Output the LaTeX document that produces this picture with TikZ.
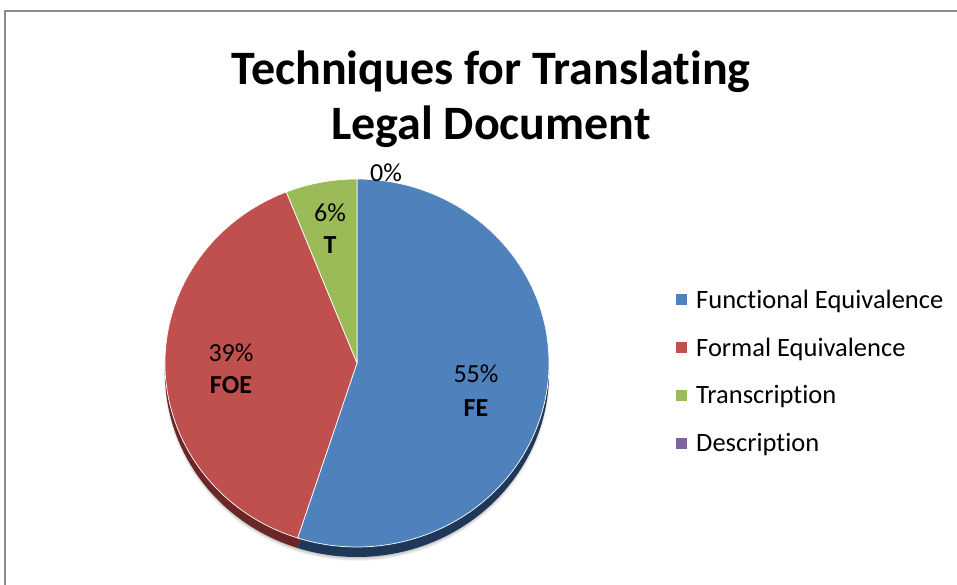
\documentclass[tikz,border=0pt]{standalone}
\usepackage{fontspec}
\setmainfont[Ligatures={NoCommon}]{Carlito}
\usetikzlibrary{calc}
\begin{document}
\begin{tikzpicture}[x=1pt,y=1pt,
  lbl/.style={font=\fontsize{26}{30}\selectfont, inner sep=0pt},
  lblb/.style={font=\fontsize{26}{30}\selectfont\bfseries, inner sep=0pt},
  legtext/.style={font=\fontsize{26.5}{30}\selectfont, anchor=west, inner sep=0pt},
  legkey/.style={minimum size=11pt, inner sep=0pt},
  slice/.style={draw=white, line width=0.7pt, line join=round}]
\definecolor{feblue}{HTML}{4F81BD}
\definecolor{foered}{HTML}{C0504D}
\definecolor{tgreen}{HTML}{9BBB59}
\definecolor{dpurple}{HTML}{8064A2}
\definecolor{febluedark}{HTML}{1F3859}
\definecolor{foereddark}{HTML}{6A2725}
\definecolor{framegray}{HTML}{8C8C8C}
\useasboundingbox (0,0) rectangle (957,585);
\fill[white] (0,0) rectangle (957,585);
% chart area frame
\draw[framegray, line width=1.5pt] (5,-2) -- (5,574) -- (959,574);

% title
\node[font=\fontsize{48}{55}\selectfont\bfseries, align=center, inner sep=0pt] (title) at (491,486)
  {Techniques for Translating\\Legal Document};

% pie geometry
\coordinate (c) at (357,222);
\def\rx{192}
\def\ry{184}

% soft shadow under the pie
\foreach \k in {0,...,7}
  \fill[black, opacity=0.035] ($(c)+(0,-13)$) ellipse ({\rx+1-\k*0.6} and {\ry+1-\k*0.6});

% side of the pie
\fill[foereddark] ($(c)+(0,-10)$) -- ++(-108:\rx pt and \ry pt)
  arc[start angle=-108, end angle=-248.4, x radius=\rx, y radius=\ry] -- cycle;
\fill[febluedark] ($(c)+(0,-10)$) -- ++(90:\rx pt and \ry pt)
  arc[start angle=90, end angle=-108, x radius=\rx, y radius=\ry] -- cycle;

% top face slices
\fill[feblue, slice] (c) -- ++(90:\rx pt and \ry pt)
  arc[start angle=90, end angle=-108, x radius=\rx, y radius=\ry] -- cycle;
\fill[foered, slice] (c) -- ++(-108:\rx pt and \ry pt)
  arc[start angle=-108, end angle=-248.4, x radius=\rx, y radius=\ry] -- cycle;
\fill[tgreen, slice] (c) -- ++(-248.4:\rx pt and \ry pt)
  arc[start angle=-248.4, end angle=-270, x radius=\rx, y radius=\ry] -- cycle;

% data labels
\node[lbl]  (p0)  at (386,412) {0\%};
\node[lbl]  (p6)  at (330,372) {6\%};
\node[lblb] (nT)  at (330,340) {T};
\node[lbl]  (p39) at (231,232) {39\%};
\node[lblb] (nFOE) at (231,200) {FOE};
\node[lbl]  (p55) at (476,211) {55\%};
\node[lblb] (nFE) at (476,177) {FE};

% legend
\node[legkey, fill=feblue]  (k1) at (681,285) {};
\node[legkey, fill=foered]  (k2) at (681,237) {};
\node[legkey, fill=tgreen]  (k3) at (681,189) {};
\node[legkey, fill=dpurple] (k4) at (681,141) {};
\node[legtext] (t1) at (696,284) {Functional Equivalence};
\node[legtext] (t2) at (696,236) {Formal Equivalence};
\node[legtext] (t3) at (696,188) {Transcription};
\node[legtext] (t4) at (696,140) {Description};
\end{tikzpicture}
\end{document}
